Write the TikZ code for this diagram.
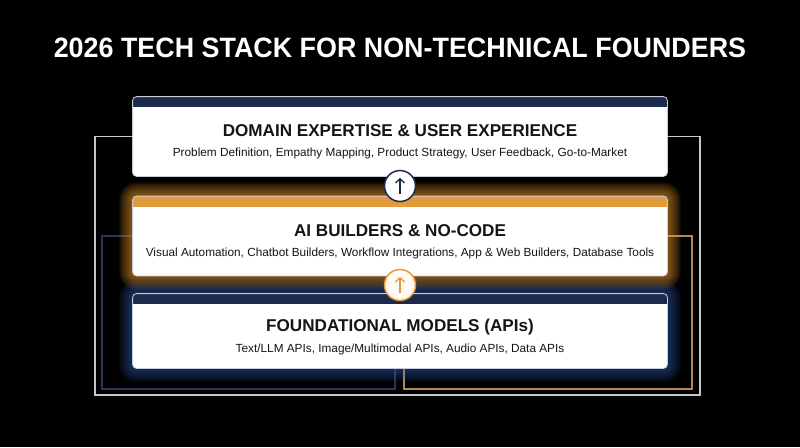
\documentclass[tikz,border=0pt]{standalone}
\usepackage{fontspec}
\setmainfont{Liberation Sans}
\usetikzlibrary{arrows.meta,calc}
\definecolor{navy}{HTML}{1E2A4C}
\definecolor{orng}{HTML}{E29B3C}
\definecolor{glowo}{HTML}{F0A030}
\definecolor{glowb}{HTML}{3A6FD0}
\definecolor{framegray}{HTML}{C8C8C8}
\definecolor{framenavy}{HTML}{2C3357}
\definecolor{frameorng}{HTML}{B88558}
\definecolor{boxedge}{HTML}{C9CCD6}
\definecolor{cream}{HTML}{FFF9F1}
\definecolor{txt}{HTML}{151515}
\tikzset{
  card/.style={draw=boxedge, line width=0.8pt, fill=white, rounded corners=4pt,
    minimum width=534pt, minimum height=79pt, inner sep=0pt},
  cardtitle/.style={font=\bfseries\fontsize{17.1}{19}\selectfont, text=txt, inner sep=0pt},
  cardsub/.style={font=\fontsize{11.8}{13}\selectfont, text=txt, inner sep=0pt},
  conn/.style={line width=1.1pt},
  stepcircle/.style={circle, minimum size=31pt, inner sep=0pt, line width=1.5pt, fill=white},
  uparrow/.style={line width=1.3pt, -{Straight Barb[length=4pt,width=9pt,line width=1.3pt]}},
}
\begin{document}
\begin{tikzpicture}[x=1pt,y=-1pt]
\fill[black] (0,0) rectangle (800,447);
\useasboundingbox (0,0) rectangle (800,447);

% title
\node[font=\bfseries\fontsize{28}{32}\selectfont, text=white, inner sep=0pt] (title) at (400,48)
  {\scalebox{0.96}[1]{2026 TECH STACK FOR NON-TECHNICAL FOUNDERS}};

% card nodes (placed first so connectors can refer to them)
\path node[card, draw=none, fill=none] (box1) at (400,136.5) {}
      node[card, draw=none, fill=none] (box2) at (400,236) {}
      node[card, draw=none, fill=none, minimum height=74pt] (box3) at (400,331) {};

\coordinate (gBL) at (95,395);
\coordinate (gR) at (700,395);
\coordinate (nBL) at (102,389);
\coordinate (oBR) at (692,389);
\coordinate (b3L) at ([xshift=-5pt]box3.south);
\coordinate (b3R) at ([xshift=4pt]box3.south);

% connectors
\draw[conn, framegray] (box1.west) -| (gBL) -| (gR |- box1.east) -- (box1.east);
\draw[conn, framenavy] (box2.west) -| (nBL) -| (b3L);
\draw[conn, frameorng] (box2.east) -| (oBR) -| (b3R);

% glows
\foreach \i in {1,...,14}{
  \pgfmathsetmacro\rr{4+\i}
  \fill[glowo, opacity=0.055, rounded corners=\rr pt]
    ([shift={(-\i pt,-\i pt)}]box2.south west) rectangle ([shift={(\i pt,\i pt)}]box2.north east);
  \fill[glowb, opacity=0.045, rounded corners=\rr pt]
    ([shift={(-\i pt,-\i pt)}]box3.south west) rectangle ([shift={(\i pt,\i pt)}]box3.north east);
}

% cards
\foreach \b/\c in {box1/navy, box2/orng, box3/navy}{
  \fill[white, rounded corners=4pt] (\b.south west) rectangle (\b.north east);
  \begin{scope}
    \clip[rounded corners=4pt] (\b.south west) rectangle (\b.north east);
    \fill[\c] (\b.north west) rectangle ([yshift=-10.5pt]\b.north east);
  \end{scope}
  \draw[boxedge, line width=0.8pt, rounded corners=4pt] (\b.south west) rectangle (\b.north east);
}

% texts
\node[cardtitle] (t1) at (400,131) {DOMAIN EXPERTISE \& USER EXPERIENCE};
\node[cardsub] (s1) at (400,153.5) {Problem Definition, Empathy Mapping, Product Strategy, User Feedback, Go-to-Market};
\node[cardtitle] (t2) at (400,231) {AI BUILDERS \& NO-CODE};
\node[cardsub] (s2) at (400,253) {Visual Automation, Chatbot Builders, Workflow Integrations, App \& Web Builders, Database Tools};
\node[cardtitle] (t3) at (400,327) {FOUNDATIONAL MODELS (APIs)};
\node[cardsub] (s3) at (400,349) {Text/LLM APIs, Image/Multimodal APIs, Audio APIs, Data APIs};

% step circles
\node[stepcircle, draw=navy] (c1) at (400,186) {};
\draw[uparrow, navy] ([yshift=-8pt]c1.center) -- ([yshift=8pt]c1.center);
\node[stepcircle, draw=orng, fill=cream] (c2) at (400,285) {};
\draw[uparrow, orng] ([yshift=-8pt]c2.center) -- ([yshift=8pt]c2.center);
\end{tikzpicture}
\end{document}
